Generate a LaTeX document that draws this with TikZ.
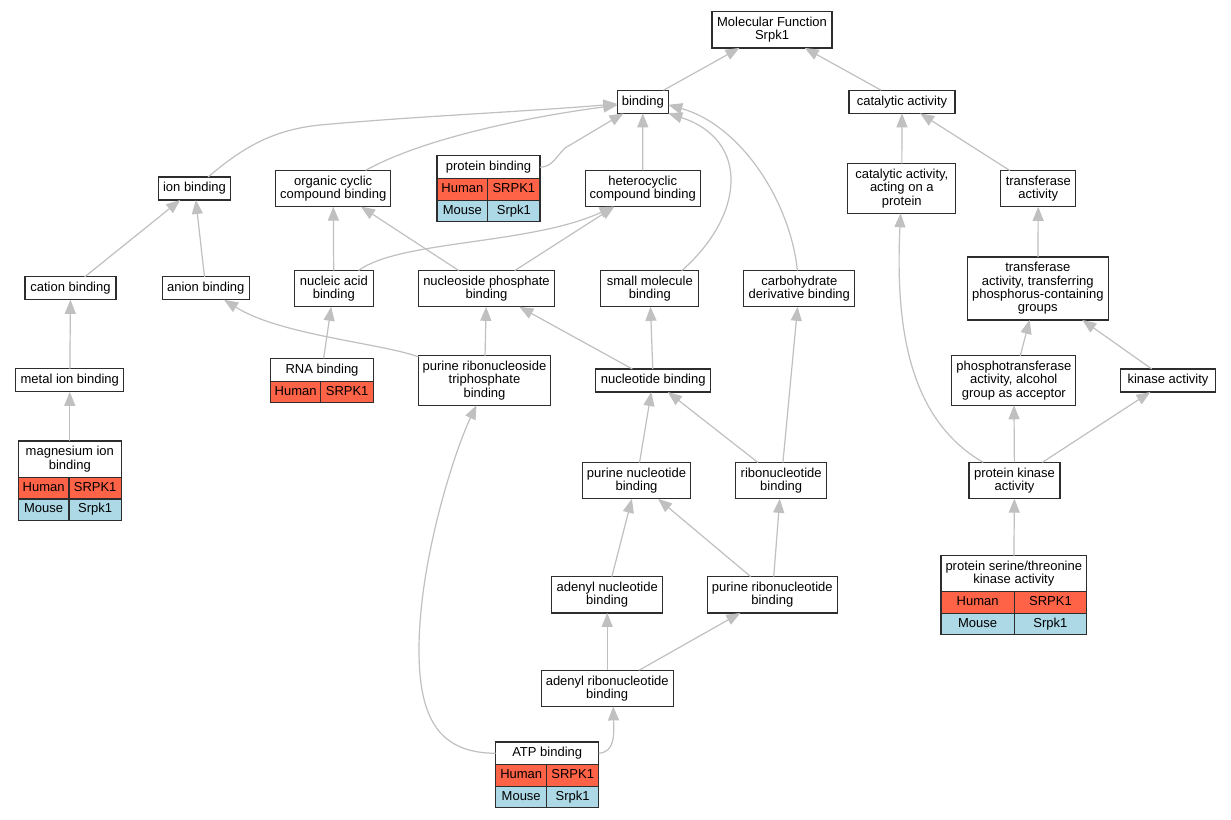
\documentclass[tikz,border=0pt]{standalone}
\usepackage{fontspec}
\setmainfont{Liberation Sans}
\usetikzlibrary{arrows.meta}
\definecolor{human}{RGB}{255,99,71}
\definecolor{mouse}{RGB}{173,216,230}
\definecolor{edgegray}{RGB}{192,192,192}
\definecolor{boxline}{RGB}{45,45,45}
\begin{document}
\begin{tikzpicture}[x=1pt,y=-1pt,
    term/.style={draw=boxline,line width=1.35pt,fill=white,align=center,
      font=\fontsize{13}{13.3}\selectfont,inner xsep=2pt,inner ysep=5.4pt,
      minimum height=23pt,outer sep=0pt},
    hum/.style={term,fill=human,text height=9.4pt,text depth=2.8pt,inner ysep=4pt,
      minimum height=21.5pt,anchor=north west},
    mou/.style={hum,fill=mouse},
    isa/.style={draw=edgegray,line width=1.2pt,-{Triangle[length=14pt,width=11pt]}}]
    \path[use as bounding box,fill=white] (0,0) rectangle (1231,819);

    \path (772,29.8) node[term,minimum width=120] (mf) {Molecular Function\\Srpk1};
    \path (642.8,101.8) node[term,minimum width=51] (bind) {binding};
    \path (902,101.8) node[term,minimum width=106] (cat) {catalytic activity};

    \path (194.5,188.5) node[term,minimum width=72] (ion) {ion binding};
    \path (333.2,188.5) node[term,minimum width=115] (org) {organic cyclic\\compound binding};
    \path (642.7,188.5) node[term,minimum width=115] (het) {heterocyclic\\compound binding};
    \path (901.8,188.5) node[term,minimum width=108] (catp) {catalytic activity,\\acting on a\\protein};
    \path (1038.3,188.7) node[term,minimum width=75] (trf) {transferase\\activity};

    \path (488.5,167.2) node[term,minimum width=103] (pb) {protein binding};
    \path (pb.south west) node[hum,minimum width=50.7] (pbh) {Human};
    \path (pbh.north east) node[hum,minimum width=52.3] (pbg) {SRPK1};
    \path (pbh.south west) node[mou,minimum width=50.7] (pbm) {Mouse};
    \path (pbm.north east) node[mou,minimum width=52.3] (pbs) {Srpk1};

    \path (70.5,288.3) node[term,minimum width=91] (cation) {cation binding};
    \path (205.8,288.3) node[term,minimum width=87] (anion) {anion binding};
    \path (333.8,288.7) node[term,minimum width=79] (nuca) {nucleic acid\\binding};
    \path (486.5,288.7) node[term,minimum width=136] (nsp) {nucleoside phosphate\\binding};
    \path (649.8,288.7) node[term,minimum width=98] (small) {small molecule\\binding};
    \path (799.3,288.7) node[term,minimum width=111] (carb) {carbohydrate\\derivative binding};
    \path (1037.8,288.5) node[term,minimum width=141] (trfp) {transferase\\activity, transferring\\phosphorus-containing\\groups};

    \path (69.8,380.3) node[term,minimum width=108] (metal) {metal ion binding};
    \path (484.5,380.5) node[term,minimum width=132] (prtp) {purine ribonucleoside\\triphosphate\\binding};
    \path (653.2,380.5) node[term,minimum width=115] (nuc) {nucleotide binding};
    \path (1013.8,380.5) node[term,minimum width=124] (phos) {phosphotransferase\\activity, alcohol\\group as acceptor};
    \path (1168,380.5) node[term,minimum width=95] (kin) {kinase activity};

    \path (322,369.8) node[term,minimum width=103,minimum height=22.3] (rna) {RNA binding};
    \path (rna.south west) node[hum,minimum width=50.3] (rnah) {Human};
    \path (rnah.north east) node[hum,minimum width=52.7] (rnag) {SRPK1};

    \path (69.8,459.2) node[term,minimum width=103,minimum height=36.3] (mg) {magnesium ion\\binding};
    \path (mg.south west) node[hum,minimum width=50.7] (mgh) {Human};
    \path (mgh.north east) node[hum,minimum width=52.3] (mgg) {SRPK1};
    \path (mgh.south west) node[mou,minimum width=50.7] (mgm) {Mouse};
    \path (mgm.north east) node[mou,minimum width=52.3] (mgs) {Srpk1};

    \path (636.5,480.7) node[term,minimum width=108] (pnuc) {purine nucleotide\\binding};
    \path (781.2,480.7) node[term,minimum width=91] (ribo) {ribonucleotide\\binding};
    \path (1014.5,480.5) node[term,minimum width=91] (pk) {protein kinase\\activity};

    \path (607.2,594.8) node[term,minimum width=111] (aden) {adenyl nucleotide\\binding};
    \path (772.3,594.8) node[term,minimum width=130] (pribo) {purine ribonucleotide\\binding};

    \path (1013.8,573.7) node[term,minimum width=145.7,minimum height=36] (sty) {protein serine/threonine\\kinase activity};
    \path (sty.south west) node[hum,minimum width=73.3] (styh) {Human};
    \path (styh.north east) node[hum,minimum width=72.4] (styg) {SRPK1};
    \path (styh.south west) node[mou,minimum width=73.3] (stym) {Mouse};
    \path (stym.north east) node[mou,minimum width=72.4] (stys) {Srpk1};

    \path (607.2,688.3) node[term,minimum width=132] (adrib) {adenyl ribonucleotide\\binding};

    \path (547.2,753.3) node[term,minimum width=103,minimum height=22] (atp) {ATP binding};
    \path (atp.south west) node[hum,minimum width=51] (atph) {Human};
    \path (atph.north east) node[hum,minimum width=52] (atpg) {SRPK1};
    \path (atph.south west) node[mou,minimum width=51] (atpm) {Mouse};
    \path (atpm.north east) node[mou,minimum width=52] (atps) {Srpk1};

    \draw[isa] (bind) -- (mf);
    \draw[isa] (cat) -- (mf);
    \draw[isa] (het) -- (bind);
    \draw[isa] (ion) .. controls (240,150) and (270,130) .. (320,125) .. controls (420,116) and (520,112) .. (bind);
    \draw[isa] (org) .. controls (420,140) and (520,118) .. (bind);
    \draw[isa] (pb.east) .. controls (552,167) and (555,158) .. (565,148) -- (bind);
    \draw[isa] ([xshift=32pt]small.north) .. controls (745,215) and (750,140) .. (bind.south east);
    \draw[isa] (carb) .. controls (790,200) and (740,125) .. ([yshift=-3pt]bind.east);
    \draw[isa] (catp) -- (cat);
    \draw[isa] (trf) -- (cat);

    \draw[isa] (cation) -- (ion);
    \draw[isa] (anion) -- (ion);
    \draw[isa] (nuca) -- (org);
    \draw[isa] (nsp) -- (org);
    \draw[isa] (nsp) -- (het);
    \draw[isa] (nuca) .. controls (400,240) and (530,245) .. ([xshift=-29pt]het.south);
    \draw[isa] (trfp) -- (trf);

    \draw[isa] (metal) -- (cation);
    \draw[isa] (mg) -- (metal);
    \draw[isa] (rna) -- (nuca);
    \draw[isa] (prtp) -- (nsp);
    \draw[isa] (prtp) .. controls (380,343) and (280,335) .. (anion);
    \draw[isa] (nuc) -- (nsp);
    \draw[isa] (nuc) -- (small);
    \draw[isa] (phos) -- (trfp);
    \draw[isa] (kin) -- (trfp);

    \draw[isa] (pnuc) -- (nuc);
    \draw[isa] (ribo) -- (nuc);
    \draw[isa] (ribo) -- (carb);
    \draw[isa] (pk) -- (phos);
    \draw[isa] (pk) -- (kin);
    \draw[isa] (pk) .. controls (910,420) and (895,330) .. (catp);
    \draw[isa] (sty) -- (pk);

    \draw[isa] (aden) -- (pnuc);
    \draw[isa] (pribo) -- (pnuc);
    \draw[isa] (pribo) -- (ribo);
    \draw[isa] (adrib) -- (aden);
    \draw[isa] (adrib) -- (pribo);
    \draw[isa] (atp.east) .. controls (615,752) and (614,735) .. ([xshift=6pt]adrib.south);
    \draw[isa] (atp.west) .. controls (440,753) and (419,720) .. (419,650) .. controls (419,560) and (455,450) .. ([xshift=-8pt]prtp.south);
  \end{tikzpicture}
\end{document}
